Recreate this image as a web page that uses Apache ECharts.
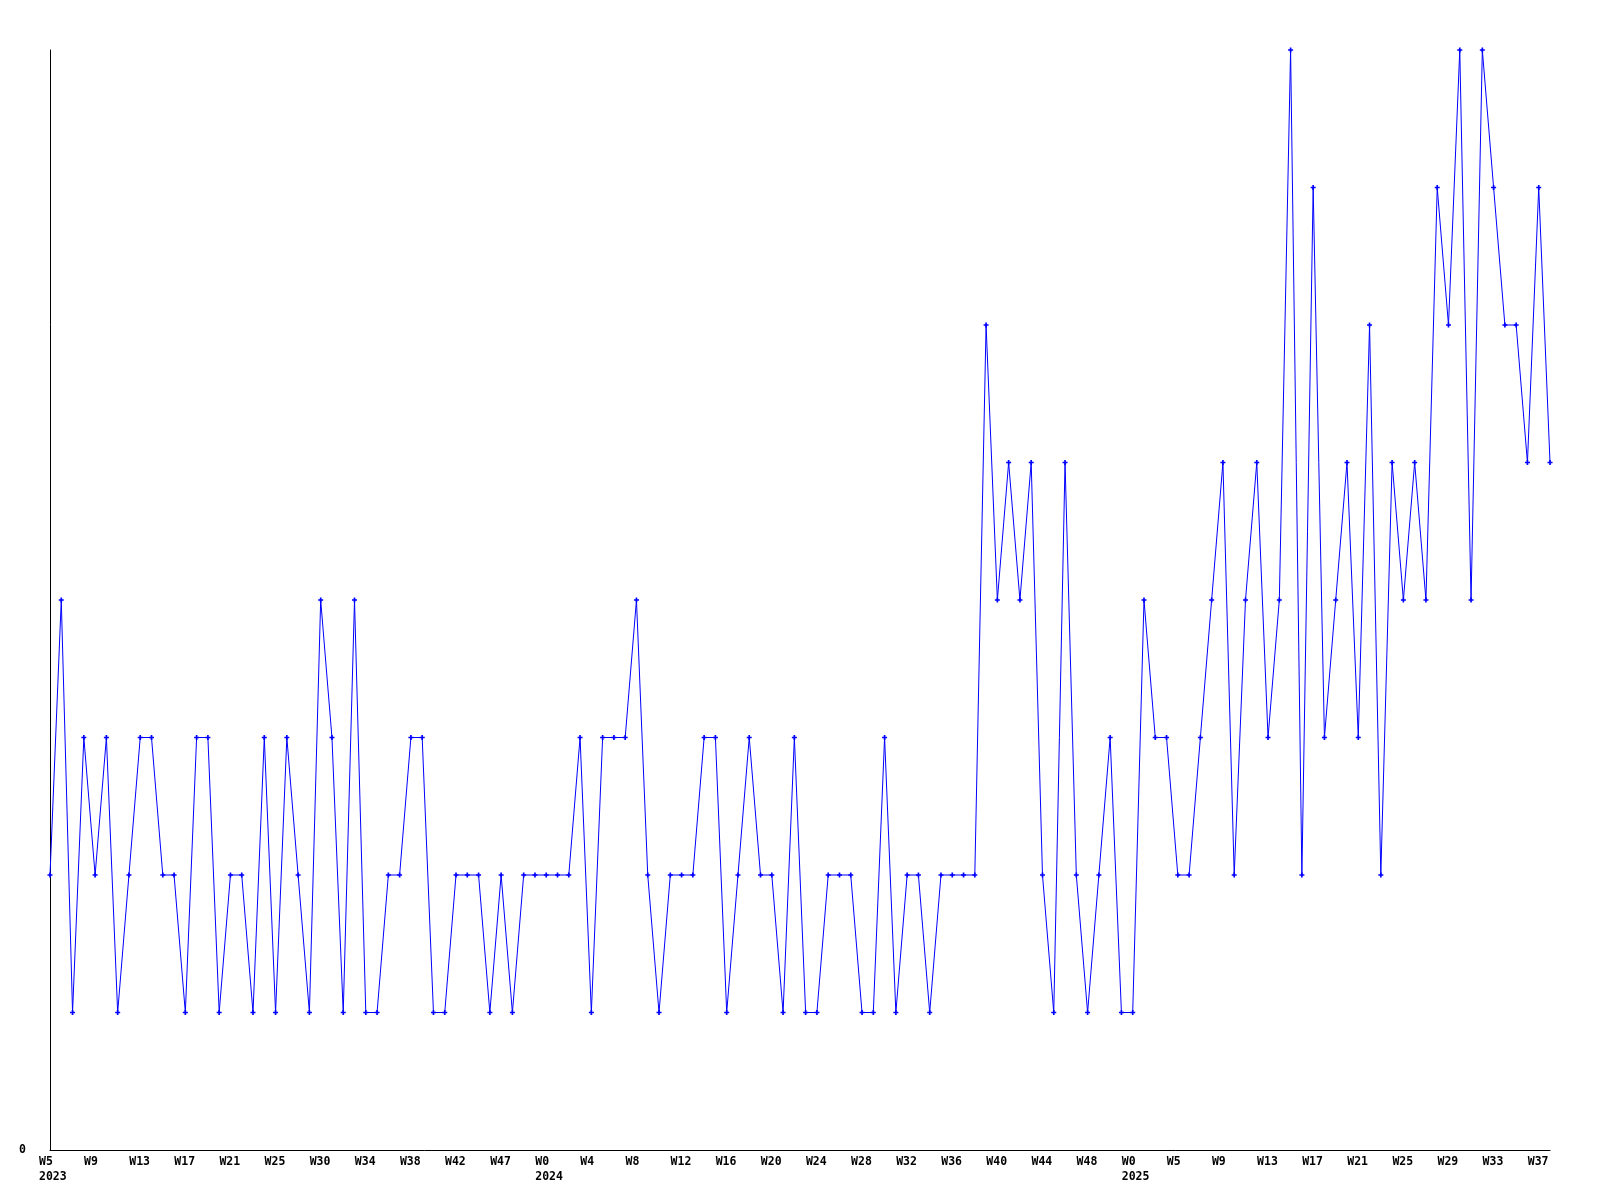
<!DOCTYPE html>
<html>
<head>
<meta charset="utf-8">
<script src="https://cdn.jsdelivr.net/npm/echarts@6/dist/echarts.min.js"></script>
<style>
  html, body { margin: 0; padding: 0; background: #fff; }
  #chart { width: 1600px; height: 1200px; }
</style>
</head>
<body>
<div id="chart"></div>
<script>
// weekly counts, 2023 W5 .. 2025 W37
const counts = [
  2, 4, 1, 3, 2, 3, 1, 2, 3, 3, 2, 2, 1, 3, 3, 1, 2, 2, 1, 3,
  1, 3, 2, 1, 4, 3, 1, 4, 1, 1, 2, 2, 3, 3, 1, 1, 2, 2, 2, 1,
  2, 1, 2, 2, 2, 2, 2, 3, 1, 3, 3, 3, 4, 2, 1, 2, 2, 2, 3, 3,
  1, 2, 3, 2, 2, 1, 3, 1, 1, 2, 2, 2, 1, 1, 3, 1, 2, 2, 1, 2,
  2, 2, 2, 6, 4, 5, 4, 5, 2, 1, 5, 2, 1, 2, 3, 1, 1, 4, 3, 3,
  2, 2, 3, 4, 5, 2, 4, 5, 3, 4, 8, 2, 7, 3, 4, 5, 3, 6, 2, 5,
  4, 5, 4, 7, 6, 8, 4, 8, 7, 6, 6, 5, 7, 5
]

// one label every 4th week
const tickLabels = [
  'W5', 'W9', 'W13', 'W17', 'W21', 'W25', 'W30', 'W34', 'W38', 'W42', 'W47',
  'W0', 'W4', 'W8', 'W12', 'W16', 'W20', 'W24', 'W28', 'W32', 'W36', 'W40', 'W44', 'W48',
  'W0', 'W5', 'W9', 'W13', 'W17', 'W21', 'W25', 'W29', 'W33', 'W37'
]
// year shown under these ticks
const yearLabels = {0: '2023', 11: '2024', 24: '2025'}

const categories = counts.map((v, i) => String(i))

const chart = echarts.init(document.getElementById('chart'))

const option = {
  animation: false,
  backgroundColor: '#fff',
  grid: {left: 50, right: 50, top: 50, bottom: 50},
  xAxis: {
    type: 'category',
    data: categories,
    boundaryGap: false,
    axisLine: {lineStyle: {color: '#000', width: 1}},
    axisTick: {show: false},
    axisLabel: {
      interval: 3,
      align: 'left',
      margin: 5,
      padding: [0, 0, 0, -11],
      color: '#000',
      fontFamily: 'DejaVu Sans Mono',
      fontWeight: 'bold',
      fontSize: 11.5,
      lineHeight: 15,
      formatter: (val, idx) => {
        let k = idx / 4
        let s = tickLabels[k] || ''
        if (yearLabels[k]) s += '\n' + yearLabels[k]
        return s
      }
    },
    splitLine: {show: false}
  },
  yAxis: {
    type: 'value',
    min: 0,
    max: 8,
    interval: 1,
    axisLine: {show: true, lineStyle: {color: '#000', width: 1}},
    axisTick: {show: false},
    splitLine: {show: false},
    axisLabel: {
      margin: 24,
      color: '#000',
      fontFamily: 'DejaVu Sans Mono',
      fontWeight: 'bold',
      fontSize: 11.5,
      formatter: (v) => v === 0 ? '0' : ''
    }
  },
  series: [
    {
      type: 'line',
      data: counts,
      showAllSymbol: true,
      symbol: 'path://M2,0H4V2H6V4H4V6H2V4H0V2H2Z',
      symbolSize: 5,
      lineStyle: {color: '#0000ff', width: 1},
      itemStyle: {color: '#0000ff'}
    }
  ]
}

chart.setOption(option)
</script>
</body>
</html>
